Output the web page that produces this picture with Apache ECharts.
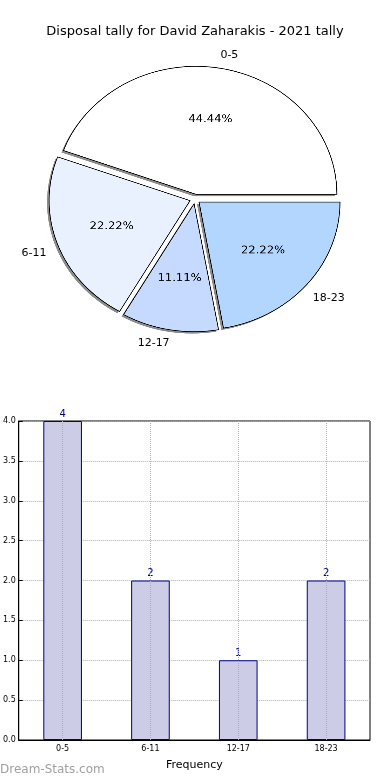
<!DOCTYPE html>
<html>
<head>
<meta charset="utf-8">
<script src="https://cdn.jsdelivr.net/npm/echarts@6/dist/echarts.min.js"></script>
<style>
html,body{margin:0;padding:0;background:#fff}
#wrap{position:relative;width:390px;height:780px}
#p{position:absolute;left:0;top:0;width:390px;height:780px;transform-origin:195px 199px;transform:scale(1.052,0.955)}
#c{position:absolute;left:0;top:0;width:390px;height:780px}
</style>
</head>
<body>
<div id="wrap"><div id="p"></div><div id="c"></div></div>
<script>
const categories = ['0-5', '6-11', '12-17', '18-23'];
const counts = [4, 2, 1, 2];
const sliceColors = ['#ffffff', '#eaf1fe', '#c6d9fe', '#b3d6ff'];
const yTicks = [0, 0.5, 1, 1.5, 2, 2.5, 3, 3.5, 4];

const total = counts.reduce((a, b) => a + b, 0);
const font = 'DejaVu Sans';
const R = 134;            // circle radius before the horizontal/vertical stretch
const SX = 1.052, SY = 0.955;
const center = [195, 199];
const shadowCenter = [center[0] - 2, center[1] + 2];

// mid-angle of each slice (counter-clockwise from east)
let acc = 0;
const midAngles = counts.map(v => { const a0 = acc; acc += v / total * 360; return (a0 + acc) / 2 * Math.PI / 180; });
// radius of the stretched (elliptical) pie along a given angle
const ellR = t => 1 / Math.sqrt(Math.pow(Math.cos(t) / (R * SX), 2) + Math.pow(Math.sin(t) / (R * SY), 2));

const pieData = categories.map((c, i) => ({ name: c, value: counts[i], selected: true, itemStyle: { color: sliceColors[i] } }));
const shadowData = categories.map((c, i) => ({ name: c, value: counts[i], selected: true }));
const pctData = categories.map((c, i) => ({ name: c, value: counts[i], selected: true }));
const nameData = categories.map((c, i) => ({ name: c, value: counts[i], selected: true,
  labelLine: { length: ellR(midAngles[i]) * 1.1 - R, length2: 0 } }));

const pie = echarts.init(document.getElementById('p'), null, { devicePixelRatio: 3 });
pie.setOption({
  animation: false,
  series: [{
    type: 'pie', center: shadowCenter, radius: [0, R], z: 1,
    startAngle: 0, clockwise: false, silent: true,
    selectedMode: 'multiple', selectedOffset: 5,
    data: shadowData,
    itemStyle: { color: '#8c8c8c', borderWidth: 0 },
    label: { show: false }, labelLine: { show: false },
    emphasis: { disabled: true }
  }, {
    type: 'pie', center: center, radius: [0, R], z: 2,
    startAngle: 0, clockwise: false,
    selectedMode: 'multiple', selectedOffset: 5,
    data: pieData,
    itemStyle: { borderColor: '#000', borderWidth: 0.8 },
    label: { show: false }, labelLine: { show: false },
    emphasis: { disabled: true }
  }, {
    type: 'pie', center: center, radius: [R * 0.32, R * 0.82], z: 3,
    startAngle: 0, clockwise: false, silent: true,
    selectedMode: 'multiple', selectedOffset: 5,
    data: pctData,
    itemStyle: { color: 'rgba(0,0,0,0)', borderWidth: 0 },
    label: { show: true, position: 'inside', fontFamily: font, fontSize: 11, color: '#000',
      textBorderWidth: 0, textBorderColor: 'rgba(0,0,0,0)', textShadowBlur: 0, textShadowColor: 'rgba(0,0,0,0)',
      formatter: p => (p.value / total * 100).toFixed(2) + '%' },
    labelLine: { show: false },
    emphasis: { disabled: true }
  }]
});

const chart = echarts.init(document.getElementById('c'));
chart.setOption({
  animation: false,
  backgroundColor: 'transparent',
  title: [
    { text: 'Disposal tally for David Zaharakis - 2021 tally', left: 'center', top: 20,
      textStyle: { fontFamily: font, fontSize: 13, fontWeight: 'normal', color: '#000' } },
    { text: 'Dream-Stats.com', left: 0, top: 764, padding: 0,
      textStyle: { fontFamily: font, fontSize: 12, fontWeight: 'normal', color: '#a0a0a0' } }
  ],
  grid: { left: 18, right: 20, top: 421, bottom: 40, show: true, borderColor: '#000', borderWidth: 1, backgroundColor: 'transparent' },
  xAxis: {
    type: 'category', data: categories, z: 5,
    axisLine: { lineStyle: { color: '#000' } },
    axisTick: { show: false },
    axisLabel: { fontFamily: font, fontSize: 8, color: '#000', margin: 5 },
    splitLine: { show: true, alignWithLabel: true, lineStyle: { color: '#b0b0b0', type: 'dotted' } },
    name: 'Frequency', nameLocation: 'middle', nameGap: 20,
    nameTextStyle: { fontFamily: font, fontSize: 11, color: '#000' }
  },
  yAxis: {
    type: 'value', min: yTicks[0], max: yTicks[yTicks.length - 1], interval: 0.5,
    axisLine: { show: true, lineStyle: { color: '#000' } },
    axisTick: { show: true, inside: true, length: 4, lineStyle: { color: '#000' } },
    axisLabel: { fontFamily: font, fontSize: 8, color: '#000', margin: 3, formatter: v => v.toFixed(1) },
    splitLine: { show: true, lineStyle: { color: '#b0b0b0', type: 'dotted' } }
  },
  series: [
    {
      type: 'bar', data: counts, barWidth: '44%',
      itemStyle: { color: '#ccccE6', borderColor: '#00008b', borderWidth: 1 },
      label: { show: true, position: 'top', distance: 2, fontFamily: font, fontSize: 10, color: '#00008b' }
    },
    {
      type: 'pie', center: center, radius: [0, R],
      startAngle: 0, clockwise: false, silent: true,
      selectedMode: 'multiple', selectedOffset: 5,
      data: nameData,
      itemStyle: { color: 'rgba(0,0,0,0)', borderWidth: 0 },
      label: { show: true, position: 'outside', fontFamily: font, fontSize: 11, color: '#000',
        distanceToLabelLine: 0, formatter: '{b}' },
      labelLine: { show: false },
      emphasis: { disabled: true }
    }
  ]
});
</script>
</body>
</html>
